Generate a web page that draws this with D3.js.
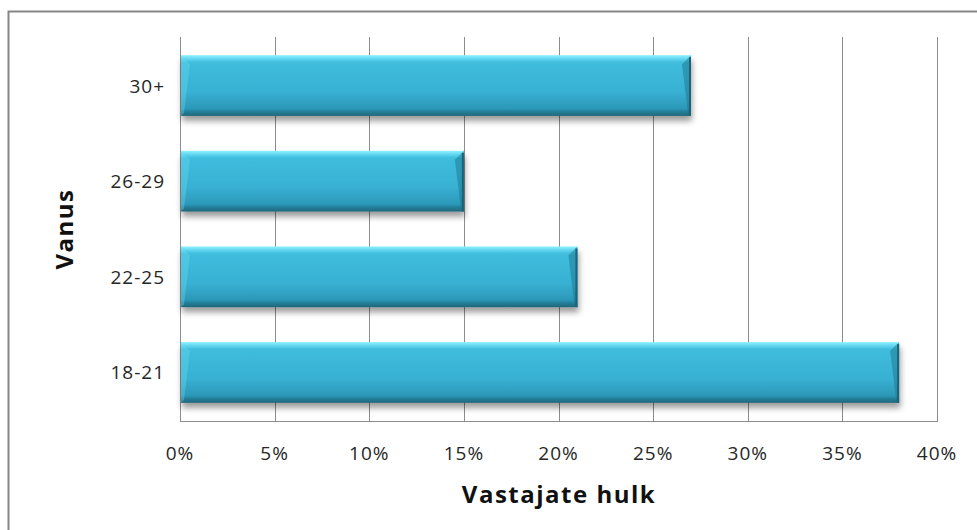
<!DOCTYPE html>
<html>
<head>
<meta charset="utf-8">
<script src="https://cdn.jsdelivr.net/npm/d3@7"></script>
<style>
  html, body { margin: 0; padding: 0; background: #fff; }
  svg { display: block; }
  text { font-family: "Open Sans", "Noto Sans", sans-serif; fill: #262626; }
</style>
</head>
<body>
<svg id="chart" width="977" height="530"></svg>
<script>
// Age groups and share of respondents
const categories = ["18-21", "22-25", "26-29", "30+"];
const values = [38, 21, 15, 27];
const tickValues = [0, 5, 10, 15, 20, 25, 30, 35, 40];
const xTitle = "Vastajate hulk";
const yTitle = "Vanus";

const svg = d3.select("#chart");
const W = 977, H = 530;
const plot = { left: 180, right: 937, top: 37, bottom: 421 };

// outer frame
svg.append("rect")
  .attr("x", 8.5).attr("y", 11.5)
  .attr("width", W + 10).attr("height", H + 10)
  .attr("fill", "none").attr("stroke", "#868686").attr("stroke-width", 2);

const x = d3.scaleLinear().domain([0, 40]).range([plot.left, plot.right]);
const y = d3.scaleBand()
  .domain(categories.slice().reverse())
  .range([plot.top, plot.bottom])
  .paddingInner(0.365)
  .paddingOuter(0.19);

const defs = svg.append("defs");
const grad = defs.append("linearGradient").attr("id", "barFill")
  .attr("x1", 0).attr("y1", 0).attr("x2", 0).attr("y2", 1);
[[0, "#8ef2ff"], [0.06, "#62d6f0"], [0.12, "#3fbcdc"], [0.6, "#38b1d3"], [0.88, "#2c98b8"], [0.93, "#247f99"], [1, "#1d6679"]]
  .forEach(([o, c]) => grad.append("stop").attr("offset", o).attr("stop-color", c));

const shadow = defs.append("filter").attr("id", "shadow")
  .attr("x", "-5%").attr("y", "-20%").attr("width", "110%").attr("height", "150%");
shadow.append("feGaussianBlur").attr("in", "SourceAlpha").attr("stdDeviation", 3).attr("result", "b");
shadow.append("feOffset").attr("in", "b").attr("dx", 1).attr("dy", 5).attr("result", "o");
shadow.append("feComponentTransfer").attr("in", "o").attr("result", "s")
  .append("feFuncA").attr("type", "linear").attr("slope", 0.4);
const merge = shadow.append("feMerge");
merge.append("feMergeNode").attr("in", "s");
merge.append("feMergeNode").attr("in", "SourceGraphic");

// vertical gridlines
svg.append("g").selectAll("line")
  .data(tickValues)
  .join("line")
  .attr("x1", d => Math.round(x(d)) + 0.5).attr("x2", d => Math.round(x(d)) + 0.5)
  .attr("y1", plot.top).attr("y2", plot.bottom)
  .attr("stroke", "#8c8c8c").attr("stroke-width", 1);

// bottom axis line
svg.append("line")
  .attr("x1", plot.left).attr("x2", plot.right + 1)
  .attr("y1", plot.bottom + 0.5).attr("y2", plot.bottom + 0.5)
  .attr("stroke", "#8c8c8c");

// bars with bevelled edges
const bars = svg.append("g").selectAll("g")
  .data(categories.map((c, i) => ({ c, v: values[i] })))
  .join("g")
  .attr("filter", "url(#shadow)");

bars.append("rect")
  .attr("x", x(0) + 1)
  .attr("y", d => y(d.c))
  .attr("width", d => x(d.v) - x(0) - 1)
  .attr("height", y.bandwidth())
  .attr("fill", "url(#barFill)");

const bv = 9;
// top-left corner bevel (lighter)
bars.append("polygon")
  .attr("points", d => {
    const x0 = x(0) + 1, y0 = y(d.c), y1 = y0 + y.bandwidth();
    return `${x0},${y0} ${x0 + bv},${y0 + bv} ${x0 + 3},${y1 - 3} ${x0},${y1}`;
  })
  .attr("fill", "#6fdcf3").attr("opacity", 0.35);
// right bevel (darker)
bars.append("polygon")
  .attr("points", d => {
    const x1 = x(d.v), y0 = y(d.c), y1 = y0 + y.bandwidth();
    return `${x1},${y0} ${x1 - bv},${y0 + bv} ${x1 - 3},${y1 - 3} ${x1},${y1}`;
  })
  .attr("fill", "#1c6f86").attr("opacity", 0.45);
// right edge line
bars.append("rect")
  .attr("x", d => x(d.v) - 2)
  .attr("y", d => y(d.c) + 2)
  .attr("width", 2)
  .attr("height", y.bandwidth() - 2)
  .attr("fill", "#1b6376");

// x tick labels
svg.append("g").selectAll("text")
  .data(tickValues)
  .join("text")
  .attr("x", d => x(d))
  .attr("y", 460)
  .attr("text-anchor", "middle")
  .style("font-size", "19px").style("letter-spacing", "1px")
  .text(d => d + "%");

// y category labels
svg.append("g").selectAll("text")
  .data(categories)
  .join("text")
  .attr("x", 165)
  .attr("y", d => y(d) + y.bandwidth() / 2 + 7)
  .attr("text-anchor", "end")
  .style("font-size", "19px").style("letter-spacing", "1px")
  .text(d => d);

// axis titles
svg.append("text")
  .attr("x", 559).attr("y", 503)
  .attr("text-anchor", "middle")
  .style("font-size", "24px").style("font-weight", "bold").style("fill", "#111")
  .style("letter-spacing", "1.5px")
  .text(xTitle);

svg.append("text")
  .attr("transform", "translate(73,229) rotate(-90)")
  .attr("text-anchor", "middle")
  .style("font-size", "24px").style("font-weight", "bold").style("fill", "#111")
  .style("letter-spacing", "1.5px")
  .text(yTitle);
</script>
</body>
</html>
